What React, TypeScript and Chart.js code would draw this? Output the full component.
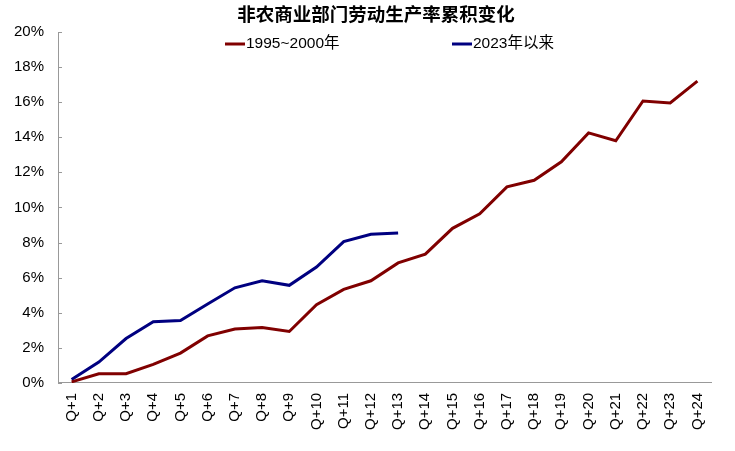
import React, { useEffect, useRef } from 'react';
import { Chart, registerables } from 'chart.js';

Chart.register(...registerables);

const quarters = ['Q+1', 'Q+2', 'Q+3', 'Q+4', 'Q+5', 'Q+6', 'Q+7', 'Q+8', 'Q+9', 'Q+10', 'Q+11', 'Q+12',
    'Q+13', 'Q+14', 'Q+15', 'Q+16', 'Q+17', 'Q+18', 'Q+19', 'Q+20', 'Q+21', 'Q+22', 'Q+23', 'Q+24'];

// cumulative change, percent
const series1995 = [0.06, 0.52, 0.52, 1.05, 1.7, 2.68, 3.07, 3.16, 2.93, 4.46, 5.33, 5.82,
    6.84, 7.34, 8.81, 9.64, 11.17, 11.55, 12.6, 14.25, 13.8, 16.07, 15.96, 17.2];
const series2023 = [0.19, 1.19, 2.53, 3.49, 3.56, 4.5, 5.42, 5.82, 5.56, 6.6, 8.05, 8.47, 8.55];

const titleText = '非农商业部门劳动生产率累积变化';
const legendNames = ['1995~2000年', '2023年以来'];

const FONT = "Arial, 'Liberation Sans', 'Noto Sans CJK SC', sans-serif";
const RED = '#800000';
const NAVY = '#000080';

// title + legend + inner y ticks, drawn by hand
const decorPlugin = {
    id: 'decor',
    afterDraw(chart: Chart) {
        const ctx = chart.ctx;
        ctx.save();
        ctx.fillStyle = '#000';
        ctx.font = `bold 18.5px ${FONT}`;
        ctx.textAlign = 'center';
        ctx.textBaseline = 'middle';
        ctx.fillText(titleText, 376, 16);

        ctx.font = `15.5px ${FONT}`;
        ctx.textAlign = 'left';
        const items = [
            { x: 225, color: RED, text: legendNames[0] },
            { x: 452, color: NAVY, text: legendNames[1] },
        ];
        items.forEach(it => {
            ctx.strokeStyle = it.color;
            ctx.lineWidth = 3;
            ctx.beginPath();
            ctx.moveTo(it.x, 44);
            ctx.lineTo(it.x + 20, 44);
            ctx.stroke();
            ctx.fillText(it.text, it.x + 21, 44);
        });

        const y = chart.scales.y;
        ctx.strokeStyle = '#999';
        ctx.lineWidth = 1;
        y.ticks.forEach(t => {
            const py = Math.round(y.getPixelForValue(t.value)) + 0.5;
            ctx.beginPath();
            ctx.moveTo(y.right, py);
            ctx.lineTo(y.right + 4, py);
            ctx.stroke();
        });
        ctx.restore();
    },
};

function App() {
    const chartRef = useRef<HTMLCanvasElement | null>(null);
    const chartInstance = useRef<Chart | null>(null);

    useEffect(() => {
        document.body.style.margin = '0';
        if (chartRef.current) {
            if (chartInstance.current) {
                chartInstance.current.destroy();
            }
            const ctx = chartRef.current.getContext('2d');
            if (ctx) {
                chartInstance.current = new Chart(ctx, {
                    type: 'line',
                    data: {
                        labels: quarters,
                        datasets: [
                            {
                                label: legendNames[0],
                                data: series1995,
                                borderColor: RED,
                                borderWidth: 3,
                                pointRadius: 0,
                                tension: 0,
                            },
                            {
                                label: legendNames[1],
                                data: series2023,
                                borderColor: NAVY,
                                borderWidth: 3,
                                pointRadius: 0,
                                tension: 0,
                            },
                        ],
                    },
                    options: {
                        animation: false,
                        responsive: true,
                        maintainAspectRatio: false,
                        layout: { padding: { top: 32, left: 0, right: 24, bottom: 11 } },
                        plugins: {
                            legend: { display: false },
                            title: { display: false },
                            tooltip: { enabled: false },
                        },
                        scales: {
                            x: {
                                offset: true,
                                grid: { display: false, drawTicks: false },
                                border: { color: '#999' },
                                ticks: {
                                    color: '#000',
                                    font: { family: FONT, size: 15 },
                                    minRotation: 90,
                                    maxRotation: 90,
                                    padding: 10,
                                    autoSkip: false,
                                },
                            },
                            y: {
                                min: 0,
                                max: 20,
                                grid: { display: false, drawTicks: false },
                                border: { color: '#999' },
                                ticks: {
                                    stepSize: 2,
                                    color: '#000',
                                    font: { family: FONT, size: 15 },
                                    padding: 14,
                                    callback: (v) => `${v}%`,
                                },
                            },
                        },
                    },
                    plugins: [decorPlugin],
                });
            }
        }
        return () => {
            if (chartInstance.current) {
                chartInstance.current.destroy();
                chartInstance.current = null;
            }
        };
    }, []);

    return (
        <div style={{ position: 'relative', width: 735, height: 451, background: '#fff' }}>
            <canvas ref={chartRef} />
        </div>
    );
}

export default App;
